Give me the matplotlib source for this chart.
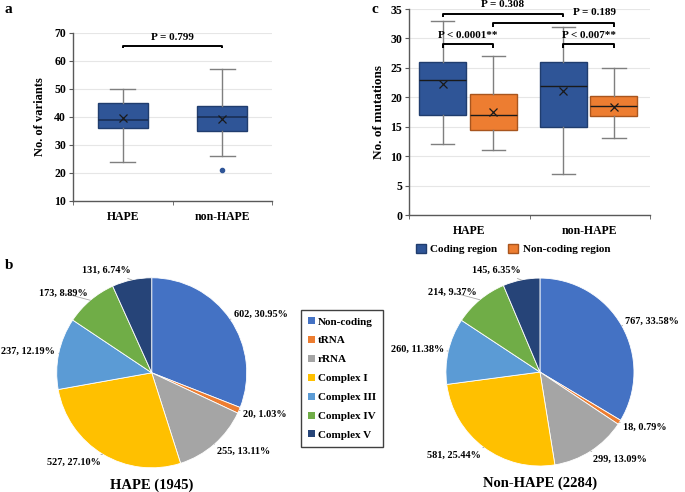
import numpy as np
import matplotlib
matplotlib.use('Agg')
import matplotlib.pyplot as plt
from matplotlib.patches import Patch

plt.rcParams['font.family'] = 'Liberation Serif'
plt.rcParams['font.weight'] = 'bold'

# ---- panel a: number of variants ----
groups_a = ['HAPE', 'non-HAPE']
a_whislo = [24, 26]
a_q1 = [36, 35]
a_med = [39, 40]
a_q3 = [45, 44]
a_whishi = [50, 57]
a_mean = [39.7, 39.4]
a_fliers = [[], [21]]

# ---- panel c: number of mutations (coding / non-coding per group) ----
groups_c = ['HAPE', 'non-HAPE']
c_pos = [0.28, 0.70, 1.28, 1.70]
c_whislo = [12, 11, 7, 13]
c_q1 = [17, 14.5, 15, 16.8]
c_med = [23, 17, 22, 18.6]
c_q3 = [26, 20.5, 26, 20.3]
c_whishi = [33, 27, 32, 25]
c_mean = [22.2, 17.5, 21.0, 18.4]
region_names = ['Coding region', 'Non-coding region']

# ---- panel b: pies ----
pie_cats = ['Non-coding', 'tRNA', 'rRNA', 'Complex I', 'Complex III', 'Complex IV', 'Complex V']
hape_counts = [602, 20, 255, 527, 237, 173, 131]
hape_pct = [30.95, 1.03, 13.11, 27.10, 12.19, 8.89, 6.74]
nonhape_counts = [767, 18, 299, 581, 260, 214, 145]
nonhape_pct = [33.58, 0.79, 13.09, 25.44, 11.38, 9.37, 6.35]
pie_colors = ['#4472C4', '#ED7D31', '#A5A5A5', '#FFC000', '#5B9BD5', '#70AD47', '#264478']

blue = '#2F5597'
blue_edge = '#203D6E'
orange = '#ED7D31'
orange_edge = '#A8551E'
spine_col = '#595959'

fig = plt.figure(figsize=(6.85, 4.92), dpi=100)


def stats(i, lo, q1, med, q3, hi, mean, fl=None):
    return dict(whislo=lo[i], q1=q1[i], med=med[i], q3=q3[i], whishi=hi[i],
                mean=mean[i], fliers=fl[i] if fl else [])


def style_box_axis(ax):
    for s in ['top', 'right']:
        ax.spines[s].set_visible(False)
    for s in ['left', 'bottom']:
        ax.spines[s].set_color(spine_col)
        ax.spines[s].set_linewidth(1.0)
    ax.yaxis.grid(True, color='#E6E6E6', lw=0.8)
    ax.set_axisbelow(True)
    ax.tick_params(axis='y', length=3, color=spine_col, labelsize=8.5, pad=2)
    ax.tick_params(axis='x', which='major', length=0, labelsize=8.5, pad=7)
    ax.tick_params(axis='x', which='minor', length=3, color=spine_col)
    for lab in ax.get_yticklabels() + ax.get_xticklabels():
        lab.set_fontweight('bold')


def bracket(ax, x0, x1, y, drop, text, tx=None, ty=None):
    ax.plot([x0, x0, x1, x1], [y - drop, y, y, y - drop], color='black', lw=1.4,
            clip_on=False, solid_capstyle='butt')
    ax.text((x0 + x1) / 2 if tx is None else tx, ty, text, ha='center', va='bottom',
            fontsize=8, fontweight='bold', clip_on=False)


# panel a
ax_a = fig.add_axes([0.1066, 0.5915, 0.2905, 0.3415])
bxp_a = [stats(i, a_whislo, a_q1, a_med, a_q3, a_whishi, a_mean, a_fliers) for i in range(2)]
ax_a.bxp(bxp_a, positions=[1, 2], widths=0.5, showmeans=True, patch_artist=True,
         boxprops=dict(facecolor=blue, edgecolor=blue_edge, lw=1.0),
         medianprops=dict(color='#1A2F55', lw=1.2),
         whiskerprops=dict(color='#7F7F7F', lw=1.0),
         capprops=dict(color='#7F7F7F', lw=1.0),
         meanprops=dict(marker='x', markeredgecolor='#1A1A1A', markersize=6, markeredgewidth=0.9),
         flierprops=dict(marker='o', markerfacecolor=blue, markeredgecolor=blue, markersize=3))
ax_a.set_xlim(0.5, 2.5)
ax_a.set_ylim(10, 70)
ax_a.set_yticks(np.arange(10, 71, 10))
ax_a.set_xticks([1, 2])
ax_a.set_xticklabels(groups_a)
ax_a.set_xticks([0.5, 1.5, 2.5], minor=True)
ax_a.set_ylabel('No. of variants', fontsize=9, fontweight='bold', labelpad=6)
style_box_axis(ax_a)
bracket(ax_a, 1, 2, 65.5, 1.0, 'P = 0.799', ty=66.8)

# panel c
ax_c = fig.add_axes([0.597, 0.563, 0.352, 0.4187])
bxp_c = [stats(i, c_whislo, c_q1, c_med, c_q3, c_whishi, c_mean) for i in range(4)]
res = ax_c.bxp(bxp_c, positions=c_pos, widths=0.39, showmeans=True, patch_artist=True,
               medianprops=dict(color='#1A1A1A', lw=1.0),
               whiskerprops=dict(color='#7F7F7F', lw=1.0),
               capprops=dict(color='#7F7F7F', lw=1.0),
               meanprops=dict(marker='x', markeredgecolor='#1A1A1A', markersize=6, markeredgewidth=0.9))
for i, box in enumerate(res['boxes']):
    if i % 2 == 0:
        box.set_facecolor(blue)
        box.set_edgecolor(blue_edge)
    else:
        box.set_facecolor(orange)
        box.set_edgecolor(orange_edge)
    box.set_linewidth(1.0)
ax_c.set_xlim(0, 2)
ax_c.set_ylim(0, 35)
ax_c.set_yticks(np.arange(0, 36, 5))
ax_c.set_xticks([0.5, 1.5])
ax_c.set_xticklabels(groups_c)
ax_c.set_xticks([0, 1, 2], minor=True)
ax_c.set_ylabel('No. of mutations', fontsize=9.5, fontweight='bold', labelpad=4)
style_box_axis(ax_c)
bracket(ax_c, c_pos[0], c_pos[2], 34.2, 0.6, 'P = 0.308', ty=35.0)
bracket(ax_c, c_pos[1], c_pos[3], 32.6, 0.6, 'P = 0.189', tx=1.54, ty=33.6)
bracket(ax_c, c_pos[0], c_pos[1], 29.0, 0.6, 'P < 0.0001**', ty=29.8)
bracket(ax_c, c_pos[2], c_pos[3], 29.0, 0.6, 'P < 0.007**', ty=29.8)

fig.legend(handles=[Patch(facecolor=blue, edgecolor=blue_edge),
                    Patch(facecolor=orange, edgecolor=orange_edge)],
           labels=region_names, loc='center', bbox_to_anchor=(0.749, 0.494), ncol=2,
           frameon=False, handlelength=0.9, handleheight=0.9,
           handletextpad=0.4, columnspacing=1.0, prop=dict(weight='bold', size=8))


# panel b
def draw_pie(rect, counts, pct, title):
    ax = fig.add_axes(rect)
    wedges, _ = ax.pie(counts, colors=pie_colors, startangle=90, counterclock=False,
                       radius=1.0, wedgeprops=dict(edgecolor='white', linewidth=0.6))
    ax.set_xlim(-1, 1)
    ax.set_ylim(-1, 1)
    ax.set_aspect('auto')
    for w, n, p in zip(wedges, counts, pct):
        ang = np.deg2rad((w.theta1 + w.theta2) / 2)
        c, s = np.cos(ang), np.sin(ang)
        tx, ty = 1.045 * c, 1.1 * s
        ha = 'left' if c > 0 else 'right'
        ax.annotate(f'{n}, {p:.2f}%', xy=(1.0 * c, 1.0 * s), xytext=(tx, ty),
                    ha=ha, va='center', fontsize=7.4, fontweight='bold',
                    arrowprops=dict(arrowstyle='-', color='#A6A6A6', lw=0.6,
                                    shrinkA=1, shrinkB=0),
                    annotation_clip=False)
    ax.text(0, -1.18, title, ha='center', va='center', fontsize=10.5, fontweight='bold',
            clip_on=False)
    return wedges


draw_pie([0.0828, 0.0492, 0.2774, 0.3862], hape_counts, hape_pct, 'HAPE (1945)')
draw_pie([0.651, 0.0528, 0.2745, 0.382], nonhape_counts, nonhape_pct, 'Non-HAPE (2284)')

fig.legend(handles=[Patch(facecolor=c) for c in pie_colors], labels=pie_cats,
           loc='center', bbox_to_anchor=(342 / 685, 0.2307), fancybox=False,
           edgecolor='#404040', framealpha=1, handlelength=0.6, handleheight=0.6,
           handletextpad=0.3, labelspacing=0.85, borderpad=0.6,
           prop=dict(weight='bold', size=8))

# panel letters
fig.text(0.007, 0.993, 'a', fontsize=11, fontweight='bold', va='top')
fig.text(0.007, 0.473, 'b', fontsize=11, fontweight='bold', va='top')
fig.text(0.543, 0.993, 'c', fontsize=11, fontweight='bold', va='top')

fig.savefig('out.png', dpi=100)
